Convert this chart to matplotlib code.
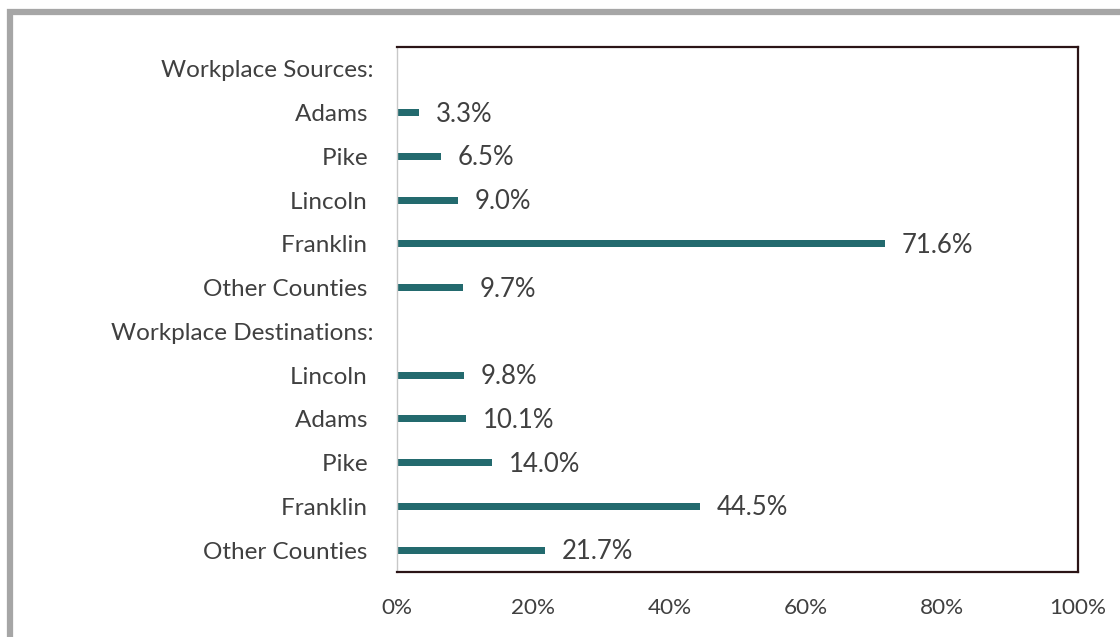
import numpy as np
import matplotlib.pyplot as plt
from matplotlib.patches import Rectangle

# rows top to bottom; header rows carry no value
categories = [
    "Workplace Sources:",
    "Adams ",
    "Pike ",
    "Lincoln ",
    "Franklin ",
    "Other Counties ",
    "Workplace Destinations:",
    "Lincoln ",
    "Adams ",
    "Pike ",
    "Franklin ",
    "Other Counties ",
]
shares = [np.nan, 3.3, 6.5, 9.0, 71.6, 9.7, np.nan, 9.8, 10.1, 14.0, 44.5, 21.7]
x_ticks = [0, 20, 40, 60, 80, 100]

plt.rcParams["font.family"] = ["Lato", "DejaVu Sans"]

fig = plt.figure(figsize=(11.2, 6.37), dpi=100)
ax = fig.add_axes([397 / 1120, 1 - 572 / 637, (1078 - 397) / 1120, (572 - 47) / 637])

bar_color = "#236a6e"
text_color = "#404040"
ypos = np.arange(len(categories))
vals = np.nan_to_num(np.array(shares, dtype=float))
ax.barh(ypos, vals, height=0.16, color=bar_color)

for y, v in zip(ypos, shares):
    if np.isnan(v):
        continue
    ax.annotate(f"{v:.1f}%", (v, y), xytext=(12, -1), textcoords="offset points",
                va="center", ha="left", fontsize=18.5, color=text_color)

ax.set_ylim(len(categories) - 0.5, -0.5)
ax.set_xlim(0, 100)
ax.set_yticks(ypos)
ax.set_yticklabels(categories, fontsize=17.5, color=text_color)
ax.set_xticks(x_ticks)
ax.set_xticklabels([f"{t}%" for t in x_ticks], fontsize=16.2, color=text_color)
ax.tick_params(axis="y", length=0, pad=17)
ax.tick_params(axis="x", length=0, pad=19)

for side in ("top", "right", "bottom"):
    ax.spines[side].set_color("#2b1416")
    ax.spines[side].set_linewidth(1.6)
ax.spines["left"].set_color("#c8c8c8")
ax.spines["left"].set_linewidth(1.0)

# gray outer frame, partly cut off at right and bottom
fig.patches.append(Rectangle((9.5 / 1120, -0.05), 1.2, 1 - 11.5 / 637 + 0.05,
                             transform=fig.transFigure, fill=False,
                             edgecolor="#a6a6a6", linewidth=4.5))

fig.savefig("out.png", dpi=100)
